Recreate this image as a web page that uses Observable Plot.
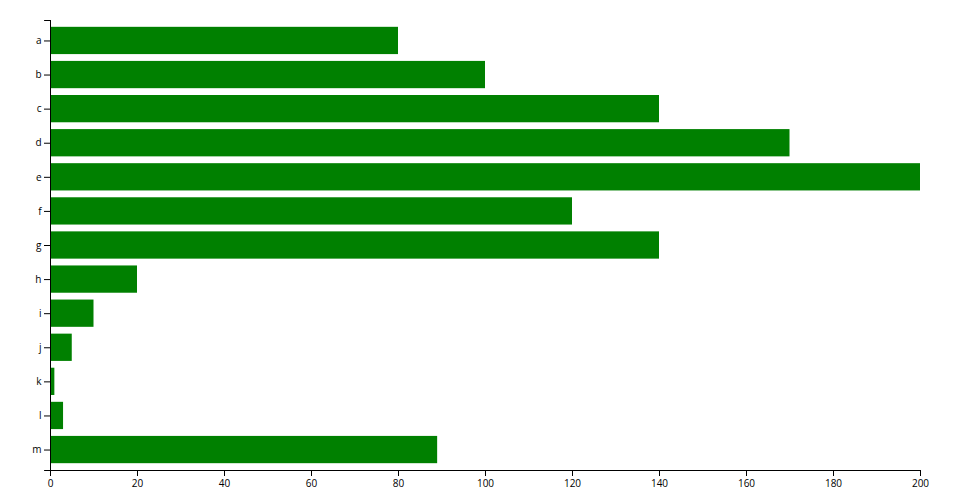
<!DOCTYPE html>
<html>
<head>
<meta charset="utf-8">
<script src="https://cdn.jsdelivr.net/npm/d3@7"></script>
<script src="https://cdn.jsdelivr.net/npm/@observablehq/plot@0.6"></script>
<style>
  html, body { margin: 0; padding: 0; background: #fff; }
</style>
</head>
<body>
<div id="chart"></div>
<script>
const categories = ["a", "b", "c", "d", "e", "f", "g", "h", "i", "j", "k", "l", "m"];
const values = [80, 100, 140, 170, 200, 120, 140, 20, 10, 5, 1, 3, 89];
const xTicks = [0, 20, 40, 60, 80, 100, 120, 140, 160, 180, 200];

const data = categories.map((c, i) => ({name: c, value: values[i]}));

const line = {draw(ctx, l) { ctx.moveTo(0, 0); ctx.lineTo(0, -l); }};

const chart = Plot.plot({
  width: 960,
  height: 500,
  marginLeft: 50,
  marginRight: 40,
  marginTop: 20,
  marginBottom: 30,
  style: {fontFamily: "'Open Sans', sans-serif", fontSize: "10px", color: "#000", background: "#fff"},
  x: {domain: [0, 200], label: null},
  y: {domain: categories, padding: 0.2, round: false, label: null},
  marks: [
    Plot.barX(data, {x: "value", y: "name", fill: "green"}),
    Plot.frame({anchor: "left", stroke: "#000"}),
    Plot.frame({anchor: "bottom", stroke: "#000"}),
    Plot.vector([0], {frameAnchor: "top-left", length: 6, rotate: -90, anchor: "start", shape: line, stroke: "#000", strokeWidth: 1}),
    Plot.vector([0], {frameAnchor: "bottom-left", length: 6, rotate: -90, anchor: "start", shape: line, stroke: "#000", strokeWidth: 1}),
    Plot.axisX({ticks: xTicks, tickSize: 6, tickPadding: 3, label: null, stroke: "#000", fill: "#000"}),
    Plot.axisY({tickSize: 6, tickPadding: 3, label: null, stroke: "#000", fill: "#000"})
  ]
});
document.getElementById("chart").appendChild(chart);
</script>
</body>
</html>
